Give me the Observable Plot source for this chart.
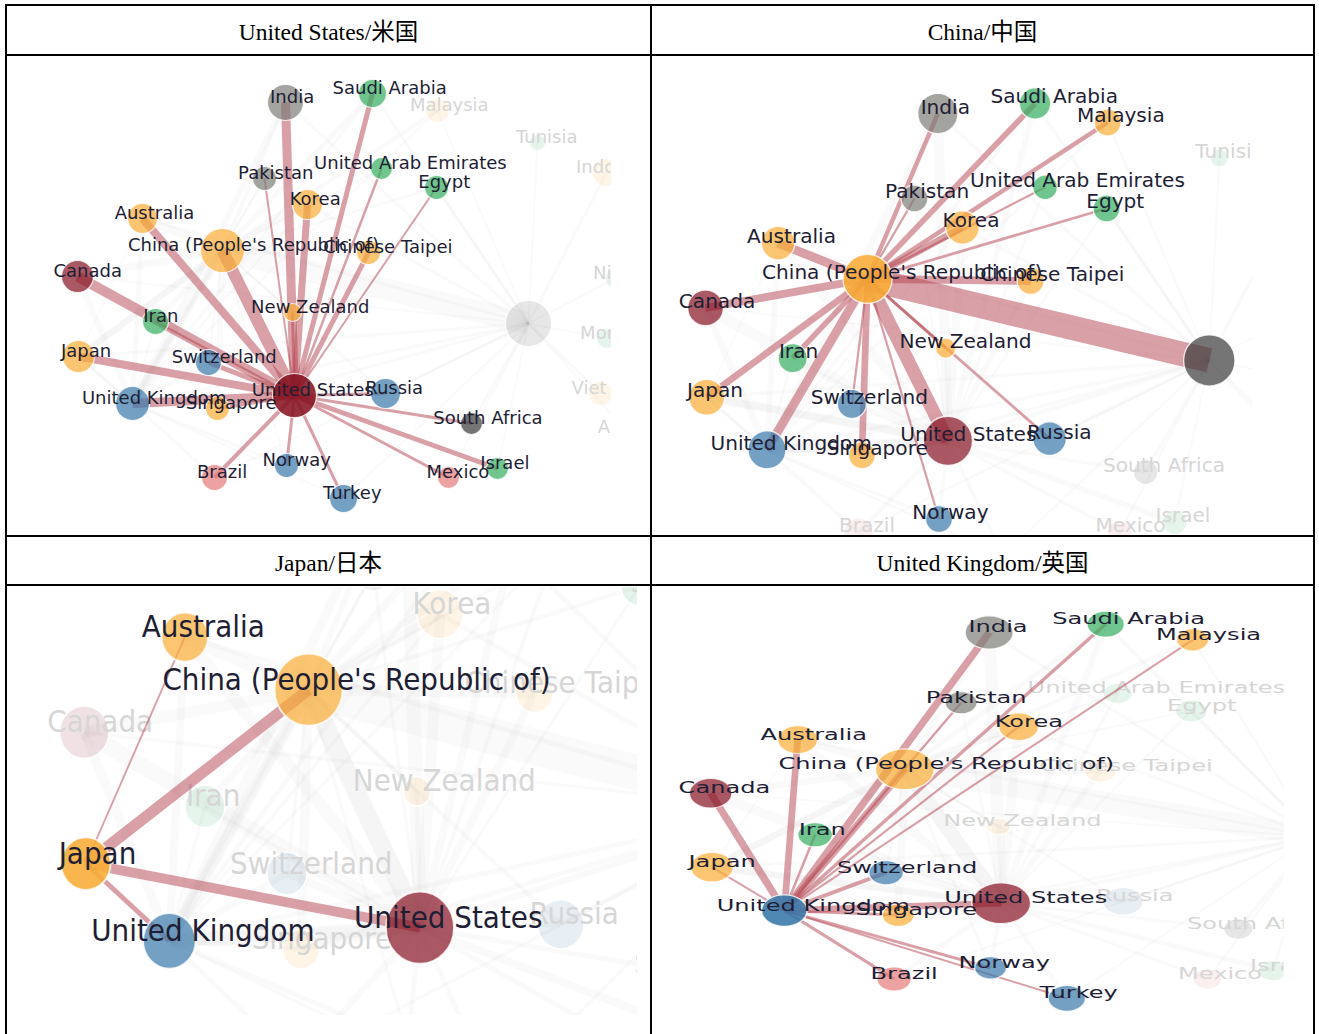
<!DOCTYPE html>
<html><head><meta charset="utf-8">
<script src="https://cdn.jsdelivr.net/npm/d3@7"></script>
<script src="https://cdn.jsdelivr.net/npm/@observablehq/plot@0.6"></script>
<style>
body{margin:0;background:#fff;}
#page{position:relative;width:1319px;height:1034px;overflow:hidden;background:#fff}
.rule{position:absolute;background:#000}
.head{position:absolute;display:flex;align-items:center;justify-content:center;font-family:"Liberation Serif","Times New Roman","Noto Sans CJK JP",serif;font-size:23.5px;color:#000}
.panel{position:absolute;overflow:hidden;background:#fff}
.panel svg{position:absolute;left:0;top:0;transform-origin:0 0;max-width:none!important}
</style></head><body><div id="page"></div>
<script>
// ---------- data ----------
const nodeIds = ["India","Saudi Arabia","Malaysia","Tunisia","Indonesia","Pakistan","United Arab Emirates","Egypt","Korea","Australia","China (People's Republic of)","Chinese Taipei","Canada","Nigeria","New Zealand","Iran","Morocco","Japan","Switzerland","United Kingdom","Singapore","United States","Russia","Viet Nam","South Africa","Argentina","Brazil","Norway","Mexico","Israel","Turkey","hub"];
const nodeLabels = ["India","Saudi Arabia","Malaysia","Tunisia","Indonesia","Pakistan","United Arab Emirates","Egypt","Korea","Australia","China (People's Republic of)","Chinese Taipei","Canada","Nigeria","New Zealand","Iran","Morocco","Japan","Switzerland","United Kingdom","Singapore","United States","Russia","Viet Nam","South Africa","Argentina","Brazil","Norway","Mexico","Israel","Turkey",""];
const nodeRegion = ["sa","me","ap","me","ap","sa","me","me","ap","ap","ap","ap","na","me","ap","me","me","ap","eu","eu","ap","na","eu","ap","af","la","la","eu","la","me","eu","af"];
// force-layout coordinates of the network (shared by all four views)
const layoutX = [285,372,437,537,606,264,381,436,307,142,222,368,77,615,292,155,606,78,208,132,217,294,385,600,471,628,214,286,448,497,343,528];
const layoutY = [102,93,110,142,172,178,168,187,204,218,250,252,276,278,312,321,338,356,362,403,408,395,393,393,423,432,477,465,477,468,498,323];
const nodeSize = [18,14,12,8,14,12,11,12,15,15,22,12,16,10,9,13,10,16,13,17,12,22,15,12,11,10,13,12,11,11,14,23];

// links of each focus country: [partner, weight]
const usLinks = [["India",9],["Saudi Arabia",5],["Pakistan",2],["United Arab Emirates",2.5],["Egypt",2],["Korea",7],["Australia",8],["China (People's Republic of)",12],["Chinese Taipei",5],["Canada",10],["New Zealand",3],["Iran",2],["Japan",8],["Switzerland",5],["United Kingdom",9],["Singapore",4],["Russia",3],["South Africa",3],["Brazil",4],["Norway",3],["Mexico",3],["Israel",5],["Turkey",3]];
const chinaLinks = [["India",4],["Saudi Arabia",5],["Malaysia",4],["Pakistan",2],["United Arab Emirates",2],["Egypt",2.5],["Korea",6],["Australia",8],["Chinese Taipei",7],["Canada",7],["New Zealand",2.5],["Iran",5],["Japan",6],["Switzerland",2],["United Kingdom",8],["Singapore",6],["United States",12],["Russia",2.5],["Norway",2],["hub",22]];
const japanLinks = [["Australia",1.2],["China (People's Republic of)",7],["United States",6],["United Kingdom",3]];
const ukLinks = [["India",6],["Saudi Arabia",3],["Malaysia",2],["Pakistan",2],["Korea",2],["Australia",5],["China (People's Republic of)",6],["Canada",6],["Iran",2],["Japan",2],["Switzerland",4],["Singapore",3],["United States",7],["Brazil",3],["Norway",3],["Turkey",2]];
const hubLinks = [["India",3],["Malaysia",2],["Tunisia",2],["Indonesia",3],["Nigeria",2],["Morocco",2],["Viet Nam",3],["Argentina",2],["South Africa",3],["Israel",2],["Mexico",2],["Turkey",2],["Russia",3],["Korea",3],["Saudi Arabia",3],["Egypt",2],["Singapore",3],["Japan",3],["Australia",3],["United States",4],["United Kingdom",3],["Canada",2],["Brazil",2]];

const panelTitles = ["United States/米国","China/中国","Japan/日本","United Kingdom/英国"];
const panelFocus = ["United States","China (People's Republic of)","Japan","United Kingdom"];
const panelLinks = [usLinks, chinaLinks, japanLinks, ukLinks];

// ---------- styles / layout ----------
const regionColor = {ap:"#f9ac35", me:"#33ae5e", sa:"#7d7d77", na:"#861322", eu:"#3878aa", la:"#e27a78", af:"#3a3a3a"};
// view windows: page box (left, top, width, height) and zoom (sx, sy) + layout origin (x0, y0)
const views = [
  {left:8,   top:57,  w:603, h:478, sx:1,     sy:1,     x0:8,     y0:57},
  {left:653, top:57,  w:600, h:478, sx:1.117, sy:1.117, x0:30.45, y0:51.87},
  {left:8,   top:587, w:629, h:428, sx:1.547, sy:1.642, x0:28.2,  y0:188.0},
  {left:653, top:587, w:631, h:435, sx:1.339, sy:0.924, x0:34.43, y0:53.3}
];
const headers = [
  {left:7, top:6, w:643, h:48}, {left:652, top:6, w:661, h:48},
  {left:7, top:537, w:643, h:47}, {left:652, top:537, w:661, h:47}
];
const rules = [
  [5,4,1310,2],[5,54,1310,2],[5,535,1310,2],[5,584,1310,2],
  [5,4,2,1030],[650,4,2,1030],[1313,4,2,1030]
];

const page = document.getElementById("page");
const canvas = document.createElement("canvas").getContext("2d");
canvas.font = "18px 'DejaVu Sans'";

const nodes = nodeIds.map((id,i)=>{
  const label = nodeLabels[i];
  const w = label ? canvas.measureText(label).width : 0;
  return {id, label, region:nodeRegion[i], x:layoutX[i], y:layoutY[i], r:nodeSize[i], lx: layoutX[i] + Math.min(0.15*w, 31)};
});
const byId = new Map(nodes.map(d=>[d.id,d]));

// all edges of the network (for faint background)
const allEdges = [];
panelFocus.forEach((f,k)=>panelLinks[k].forEach(([t,w])=>allEdges.push({a:f,b:t,w})));
hubLinks.forEach(([t,w])=>allEdges.push({a:"hub",b:t,w}));

for (const [x,y,w,h] of rules) {
  const d = document.createElement("div"); d.className="rule";
  Object.assign(d.style,{left:x+"px",top:y+"px",width:w+"px",height:h+"px"});
  page.appendChild(d);
}

panelTitles.forEach((t,k)=>{
  const hb = headers[k];
  const d = document.createElement("div"); d.className="head";
  Object.assign(d.style,{left:hb.left+"px",top:hb.top+"px",width:hb.w+"px",height:hb.h+"px"});
  d.textContent = t; page.appendChild(d);

  const v = views[k];
  const focus = panelFocus[k];
  const links = panelLinks[k].map(([p,w])=>({s:byId.get(focus), t:byId.get(p), w}));
  const bright = new Set([focus, ...panelLinks[k].map(d=>d[0])]);
  const bg = allEdges.filter(e=>e.a!==focus && e.b!==focus).map(e=>({s:byId.get(e.a), t:byId.get(e.b), w:e.w}));
  const faded = nodes.filter(d=>!bright.has(d.id));
  const lit = nodes.filter(d=>bright.has(d.id));
  const W = v.w / v.sx, H = v.h / v.sy;
  const svg = Plot.plot({
    width: W, height: H, margin: 0,
    x: {domain:[v.x0, v.x0+W], range:[0,W], axis:null},
    y: {domain:[v.y0, v.y0+H], range:[0,H], axis:null},
    r: {type:"identity"},
    style: {background:"transparent", overflow:"hidden"},
    marks: [
      Plot.link(bg, {x1:d=>d.s.x, y1:d=>d.s.y, x2:d=>d.t.x, y2:d=>d.t.y, stroke:"#bbbbbb", strokeOpacity:0.07, strokeWidth:d=>d.w}),
      Plot.dot(faded, {x:"x", y:"y", r:"r", fill:d=>regionColor[d.region], fillOpacity:0.12, stroke:"white", strokeWidth:1}),
      Plot.text(faded.filter(d=>d.label), {x:"lx", y:"y", text:"label", fontSize:18, fontFamily:"DejaVu Sans", fill:"#d6d6d6", textAnchor:"middle", lineAnchor:"bottom"}),
      Plot.link(links, {x1:d=>d.s.x, y1:d=>d.s.y, x2:d=>d.t.x, y2:d=>d.t.y, stroke:"#b3434f", strokeOpacity:0.5, strokeWidth:d=>d.w}),
      Plot.dot(lit, {x:"x", y:"y", r:"r", fill:d=>regionColor[d.region], fillOpacity:d=>d.id===focus?0.88:0.7, stroke:"white", strokeWidth:1.2, strokeOpacity:0.8}),
      Plot.text(lit.filter(d=>d.label), {x:"lx", y:"y", text:"label", fontSize:18, fontFamily:"DejaVu Sans", fill:"#1e1e34", textAnchor:"middle", lineAnchor:"bottom"})
    ]
  });
  const box = document.createElement("div"); box.className="panel";
  Object.assign(box.style,{left:v.left+"px",top:v.top+"px",width:v.w+"px",height:v.h+"px"});
  svg.style.transform = `scale(${v.sx},${v.sy})`;
  box.appendChild(svg); page.appendChild(box);
});
</script></body></html>
